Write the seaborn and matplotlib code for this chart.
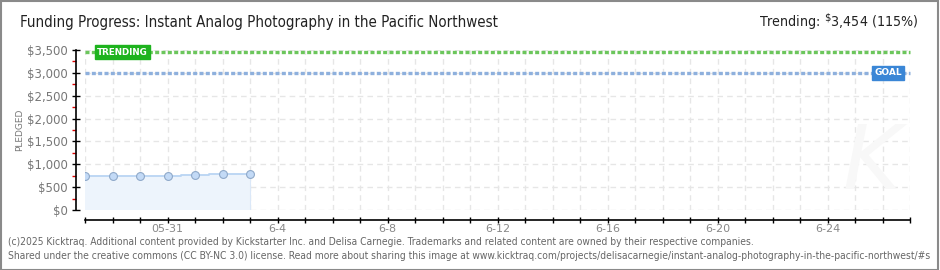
import matplotlib
matplotlib.use("Agg")
import matplotlib.pyplot as plt
import matplotlib.patches as mpatches
from matplotlib.ticker import FixedLocator, FuncFormatter
import seaborn as sns
import pandas as pd

# ---- data ----
day_index = [0, 1, 2, 3, 4, 5, 6]          # 05-28 .. 06-03
pledged = [737, 737, 737, 737, 759, 781, 781]
goal = 3000
trending = 3454
n_days = 30
label_days = [3, 7, 11, 15, 19, 23, 27]
label_text = ["05-31", "6-4", "6-8", "6-12", "6-16", "6-20", "6-24"]
y_ticks = [0, 500, 1000, 1500, 2000, 2500, 3000, 3500]

title = "Funding Progress: Instant Analog Photography in the Pacific Northwest"
footer1 = ("(c)2025 Kicktraq. Additional content provided by Kickstarter Inc. and Delisa Carnegie. "
           "Trademarks and related content are owned by their respective companies.")
footer2 = ("Shared under the creative commons (CC BY-NC 3.0) license. Read more about sharing this image at "
           "www.kicktraq.com/projects/delisacarnegie/instant-analog-photography-in-the-pacific-northwest/#s")

df = pd.DataFrame({"day": day_index, "pledged": pledged})

sns.set_theme(style="white")
plt.rcParams["font.family"] = ["DejaVu Sans"]

W, H = 940, 270
fig = plt.figure(figsize=(W / 100, H / 100), dpi=100)
ax = fig.add_axes([85 / W, (H - 210) / H, (910 - 85) / W, (210 - 50) / H])

ax.set_xlim(0, n_days)
ax.set_ylim(0, 3500)

# grid
for d in range(n_days + 1):
    ax.axvline(d, color="#e6e6e6", lw=1, ls=(0, (4, 3)), zorder=0)
for yv in y_ticks:
    ax.axhline(yv, color="#e6e6e6", lw=1, ls=(0, (4, 3)), zorder=0)

# fill + line + markers
ax.fill_between(df["day"], df["pledged"], step="mid", color="#edf4fc", lw=0, zorder=1)
ax.plot([df["day"].iloc[-1]] * 2, [0, df["pledged"].iloc[-1]], color="#dbe8f8", lw=0.8, zorder=1)
sns.lineplot(data=df, x="day", y="pledged", ax=ax, drawstyle="steps-mid",
             color="#b9d4f3", lw=1.3, zorder=2)
sns.scatterplot(data=df, x="day", y="pledged", ax=ax, s=32, color="#c3daf6",
                edgecolor="#8fa9c9", linewidth=0.8, zorder=3)

# goal / trending lines
ax.axhline(goal, color="#8eb0dd", lw=2.4, ls=(0, (1.2, 0.7)), zorder=2, clip_on=False)
ax.axhline(trending, color="#6cc65c", lw=2.4, ls=(0, (1.2, 0.7)), zorder=2, clip_on=False)

ax.text(1.35, trending, "TRENDING", ha="center", va="center", fontsize=6.3, color="white",
        fontweight="bold", zorder=5,
        bbox=dict(boxstyle="square,pad=0.25", fc="#1eb31e", ec="#1eb31e"))
ax.text(29.2, goal, "GOAL", ha="center", va="center", fontsize=6.5, color="white",
        fontweight="bold", zorder=5,
        bbox=dict(boxstyle="square,pad=0.25", fc="#3a86d6", ec="#3a86d6"))

# watermark
ax.text(28.6, 1000, "K", fontsize=64, fontstyle="italic", color="#f8f8f8", ha="center",
        va="center", zorder=0)

# axes styling
for s in ["top", "right"]:
    ax.spines[s].set_visible(False)
ax.spines["left"].set_position(("outward", 6.5))
ax.spines["bottom"].set_position(("outward", 7))
for s in ["left", "bottom"]:
    ax.spines[s].set_color("black")
    ax.spines[s].set_linewidth(1.2)

ax.xaxis.set_major_locator(FixedLocator(list(range(n_days + 1))))
ax.set_xticklabels([label_text[label_days.index(d)] if d in label_days else "" for d in range(n_days + 1)])
ax.yaxis.set_major_locator(FixedLocator(y_ticks))
ax.yaxis.set_major_formatter(FuncFormatter(lambda v, p: f"${int(v):,}"))
ax.yaxis.set_minor_locator(FixedLocator([v + 250 for v in y_ticks[:-1]]))

ax.tick_params(axis="x", which="major", direction="inout", length=5, width=1, color="black",
               labelsize=8, labelcolor="#888888", pad=0.5, bottom=True)
ax.tick_params(axis="y", which="major", direction="inout", length=6, width=1, color="black",
               labelsize=8.5, labelcolor="#777777", pad=3, left=True)
ax.tick_params(axis="y", which="minor", direction="out", length=3, width=1, color="#dd0000", left=True)
ax.set_xlabel("")
ax.set_ylabel("")

fig.text(20 / W, 1 - 130 / H, "PLEDGED", rotation=90, ha="center", va="center",
         fontsize=6.5, color="#777777")

# title and trending summary
fig.text(20 / W, 1 - 22 / H, title, ha="left", va="center", fontsize=10.8, color="#222222",
         fontstretch="condensed")
fig.text(918 / W, 1 - 22 / H, r"Trending: $^{\$}$3,454 (115%)", ha="right", va="center",
         fontsize=10.2, color="#222222", fontstretch="condensed")

# footer
fig.text(8 / W, 1 - 242 / H, footer1, ha="left", va="center", fontsize=7.35, color="#666666",
         fontstretch="condensed")
fig.text(8 / W, 1 - 256 / H, footer2, ha="left", va="center", fontsize=7.35, color="#666666",
         fontstretch="condensed")

# border
fig.patches.append(mpatches.Rectangle((0.5 / W, 0.5 / H), 937 / W, (H - 1) / H,
                                      transform=fig.transFigure, fill=False,
                                      ec="#8a8a8a", lw=1.5))

fig.savefig("out.png", dpi=100, facecolor="white")
